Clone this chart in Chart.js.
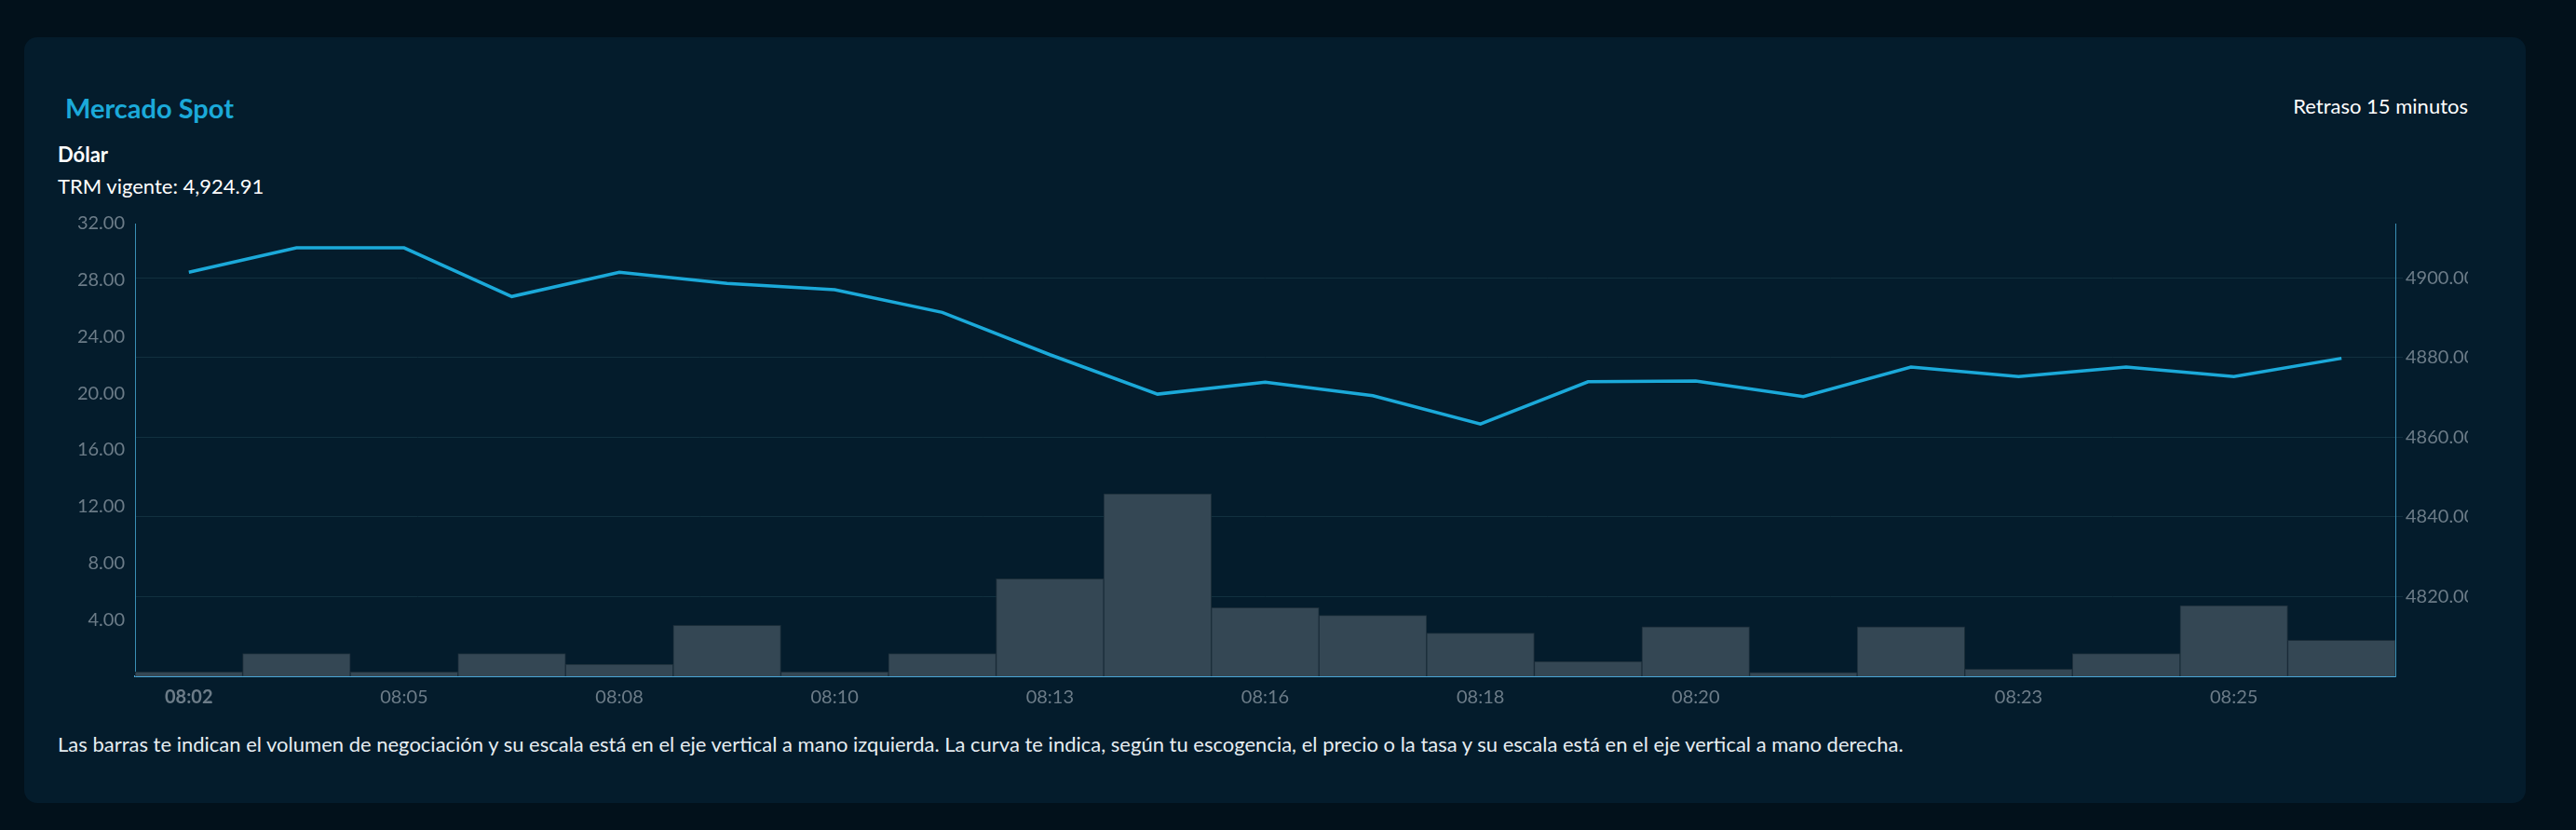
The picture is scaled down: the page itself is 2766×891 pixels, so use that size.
<!DOCTYPE html>
<html>
<head>
<meta charset="utf-8">
<script src="https://cdn.jsdelivr.net/npm/chart.js@4"></script>
<style>
  body { margin:0; background:#02111b; font-family:Lato, sans-serif; }
  .card { position:absolute; left:26px; top:40px; width:2686px; height:822px; background:#041c2c; border-radius:14px; }
  .title { position:absolute; left:44px; top:58px; color:#1ba9d9; font-size:29px; font-weight:bold; }
  .delay { position:absolute; right:62px; top:60px; color:#fff; font-size:22px; }
  .name { position:absolute; left:36px; top:112px; color:#fff; font-size:22px; font-weight:bold; }
  .trm { position:absolute; left:36px; top:146px; color:#fff; font-size:22px; }
  .wrap { position:absolute; left:34px; top:185px; width:2590px; height:550px; }
  .note { position:absolute; left:36px; top:745px; color:#e6edf2; font-size:22px; }
</style>
</head>
<body>
<div class="card">
  <div class="title">Mercado Spot</div>
  <div class="delay">Retraso 15 minutos</div>
  <div class="name">Dólar</div>
  <div class="trm">TRM vigente: 4,924.91</div>
  <div class="wrap"><canvas id="c" width="2590" height="550"></canvas></div>
  <div class="note">Las barras te indican el volumen de negociación y su escala está en el eje vertical a mano izquierda. La curva te indica, según tu escogencia, el precio o la tasa y su escala está en el eje vertical a mano derecha.</div>
</div>
<script>
// time categories and which of them get a tick label
const times = ['08:02','08:03','08:05','08:06','08:08','08:09','08:10','08:11','08:13','08:14','08:16','08:17','08:18','08:19','08:20','08:21','08:22','08:23','08:24','08:25','08:26'];
const shownTimes = ['08:02','08:05','08:08','08:10','08:13','08:16','08:18','08:20','08:23','08:25'];
const volume = [0.3,1.6,0.3,1.6,0.85,3.6,0.3,1.6,6.9,12.9,4.85,4.3,3.05,1.05,3.5,0.27,3.5,0.5,1.6,5.0,2.55];
const price = [4901.4,4907.5,4907.5,4895.3,4901.4,4898.6,4897.0,4891.3,4880.7,4870.8,4873.8,4870.4,4863.3,4873.9,4874.1,4870.2,4877.6,4875.2,4877.6,4875.2,4879.8];
const volTicks = [4,8,12,16,20,24,28,32];
const priceTicks = [4820,4840,4860,4880,4900];

const tickFont = { family: 'Lato', size: 20 };
const tickColor = '#6c7c88';
const axisColor = '#3a8fb5';

new Chart(document.getElementById('c').getContext('2d'), {
  data: {
    labels: times,
    datasets: [
      {
        type: 'line', data: price, yAxisID: 'yR',
        borderColor: '#1ba9d9', borderWidth: 3.5, pointRadius: 0, tension: 0, order: 0
      },
      {
        type: 'bar', data: volume, yAxisID: 'yL',
        backgroundColor: '#344754', borderColor: '#1c2e3a', borderWidth: 1,
        barPercentage: 1, categoryPercentage: 1, order: 1
      }
    ]
  },
  options: {
    responsive: false,
    animation: false,
    layout: { padding: { top: 9 } },
    plugins: { legend: { display: false }, tooltip: { enabled: false } },
    scales: {
      x: {
        offset: true,
        grid: { display: false, drawTicks: true, tickLength: 8, color: axisColor },
        border: { color: '#4aa6d6', width: 2 },
        afterFit: s => { s.height = 49; },
        ticks: {
          autoSkip: false, maxRotation: 0, color: tickColor,
          font: ctx => ({ family: 'Lato', size: 20, weight: ctx.index === 0 ? 'bold' : 'normal' }),
          callback: function(v) { const l = times[v]; return shownTimes.includes(l) ? l : ''; }
        }
      },
      yL: {
        position: 'left', min: 0, max: 32,
        afterBuildTicks: s => { s.ticks = volTicks.map(v => ({ value: v })); },
        afterFit: s => { s.width = 85; },
        grid: { display: false },
        border: { color: axisColor },
        ticks: { color: tickColor, font: tickFont, callback: v => v.toFixed(2) }
      },
      yR: {
        position: 'right', min: 4800, max: 4913.6,
        afterBuildTicks: s => { s.ticks = priceTicks.map(v => ({ value: v })); },
        afterFit: s => { s.width = 78; },
        grid: { color: '#12303f', tickLength: 8 },
        border: { color: axisColor },
        ticks: { color: tickColor, font: tickFont, callback: v => v.toFixed(2) }
      }
    }
  }
});
</script>
</body>
</html>
